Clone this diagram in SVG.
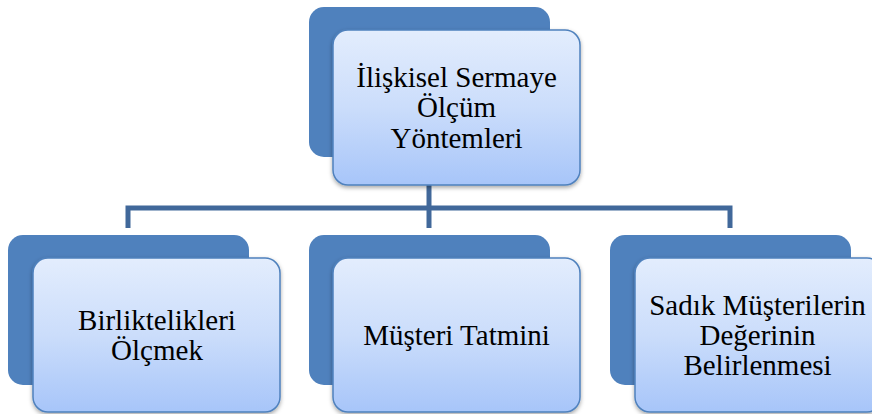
<svg xmlns="http://www.w3.org/2000/svg" width="872" height="414" viewBox="0 0 872 414">
<style>
.back{fill:#4f81bd;}
.front{fill:url(#g);stroke:#4f81bd;stroke-width:1.5;filter:url(#sh);}
.t{font-family:'Liberation Serif','Times New Roman',serif;font-size:29px;fill:#000;text-anchor:middle;}
.c{fill:none;stroke:#41689a;stroke-width:5;}
</style>
<defs>
<linearGradient id="g" x1="0" y1="0" x2="0" y2="1">
<stop offset="0" stop-color="#e3edfd"/>
<stop offset="0.5" stop-color="#cbddfb"/>
<stop offset="1" stop-color="#a7c5f9"/>
</linearGradient>
<filter id="sh" x="-10%" y="-10%" width="120%" height="125%">
<feDropShadow dx="0" dy="2" stdDeviation="2" flood-color="#000" flood-opacity="0.35"/>
</filter>
</defs>
<g id="connectors">
<path class="c" d="M429,185 V208"/>
<path class="c" d="M128,228 V208 H730 V228"/>
<path class="c" d="M429,208 V228"/>
</g>
<g id="root">
<rect class="back" x="309" y="7" width="241" height="150" rx="15"/>
<rect class="front" x="333" y="30" width="247" height="155" rx="15"/>
<text class="t" x="456.5" y="87">İlişkisel Sermaye</text>
<text class="t" x="456.5" y="117">Ölçüm</text>
<text class="t" x="456.5" y="148">Yöntemleri</text>
</g>
<g id="n1">
<rect class="back" x="8" y="235" width="241" height="150" rx="15"/>
<rect class="front" x="33" y="258" width="247" height="154" rx="15"/>
<text class="t" x="157" y="330">Birliktelikleri</text>
<text class="t" x="157" y="360">Ölçmek</text>
</g>
<g id="n2">
<rect class="back" x="309" y="235" width="241" height="150" rx="15"/>
<rect class="front" x="333" y="258" width="247" height="154" rx="15"/>
<text class="t" x="456.5" y="345">Müşteri Tatmini</text>
</g>
<g id="n3">
<rect class="back" x="610" y="235" width="241" height="150" rx="15"/>
<rect class="front" x="635" y="258" width="247" height="154" rx="15"/>
<text class="t" x="757.5" y="315">Sadık Müşterilerin</text>
<text class="t" x="757.5" y="345">Değerinin</text>
<text class="t" x="757.5" y="375">Belirlenmesi</text>
</g>
</svg>
